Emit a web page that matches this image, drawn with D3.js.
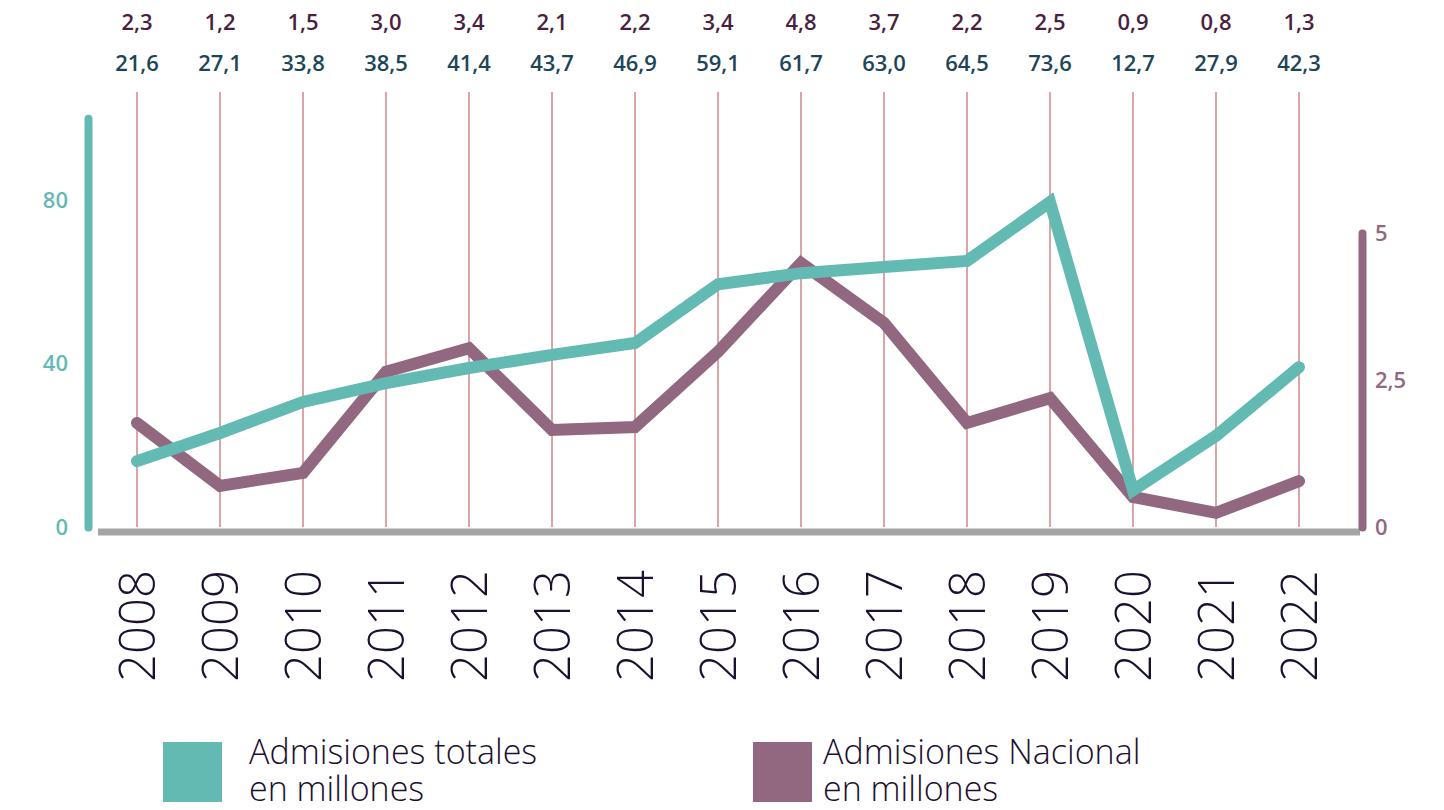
<!DOCTYPE html>
<html>
<head>
<meta charset="utf-8">
<script src="https://cdn.jsdelivr.net/npm/d3@7"></script>
<style>
  html, body { margin: 0; padding: 0; background: #ffffff; }
  svg { display: block; }
  text { font-family: "Open Sans", "Noto Sans", sans-serif; }
</style>
</head>
<body>
<svg id="chart" width="1444" height="810"></svg>
<script>
// ---- data ----
const years = ["2008","2009","2010","2011","2012","2013","2014","2015","2016","2017","2018","2019","2020","2021","2022"];
// plotted positions
const totalValues    = [16.1, 23.0, 30.6, 35.2, 38.9, 42.1, 45.0, 59.4, 62.1, 63.6, 65.1, 79.5, 9.0, 22.3, 39.1];
const nacionalValues = [1.77, 0.70, 0.92, 2.64, 3.04, 1.65, 1.70, 2.98, 4.49, 3.47, 1.77, 2.19, 0.51, 0.24, 0.78];
// printed labels at the top
const totalLabels    = ["21,6","27,1","33,8","38,5","41,4","43,7","46,9","59,1","61,7","63,0","64,5","73,6","12,7","27,9","42,3"];
const nacionalLabels = ["2,3","1,2","1,5","3,0","3,4","2,1","2,2","3,4","4,8","3,7","2,2","2,5","0,9","0,8","1,3"];
const leftTicks  = [0, 40, 80];
const rightTicks = [0, 2.5, 5];
const legendItems = [
  { lines: ["Admisiones totales", "en millones"], key: "total" },
  { lines: ["Admisiones Nacional", "en millones"], key: "nacional" }
];

// ---- styles ----
const TEAL = "#63bab3", PURPLE = "#926880", GRID = "#d48e8e", BASE = "#a5a5a5";
const TEAL_TXT = "#1c4658", PURPLE_TXT = "#4a1f40", DARK = "#1c1030";

const svg = d3.select("#chart");
const x = d3.scalePoint().domain(years).range([137, 1299]);
const yL = d3.scaleLinear().domain([0, 100]).range([527, 118.25]);
const yR = d3.scaleLinear().domain([0, 5]).range([527, 233]);
const locale = d3.formatLocale({ decimal: ",", thousands: ".", grouping: [3], currency: ["", ""] });
const fmtR = d => d === Math.round(d) ? String(d) : locale.format(".1f")(d);

// vertical grid lines
svg.append("g").selectAll("line").data(years).join("line")
  .attr("x1", d => x(d)).attr("x2", d => x(d))
  .attr("y1", 92).attr("y2", yL(0))
  .attr("stroke", GRID).attr("stroke-width", 1.6);

// baseline
svg.append("line")
  .attr("x1", 98).attr("x2", 1360)
  .attr("y1", yL(0) + 5).attr("y2", yL(0) + 5)
  .attr("stroke", BASE).attr("stroke-width", 7);

// left axis
const gL = svg.append("g").attr("transform", "translate(88,0)")
  .call(d3.axisLeft(yL).tickValues(leftTicks).tickSize(0).tickSizeOuter(0).tickPadding(20));
gL.select(".domain").attr("stroke", TEAL).attr("stroke-width", 8).attr("stroke-linecap", "round");
gL.selectAll("text").attr("fill", TEAL).attr("font-size", 22).attr("font-weight", 600)
  .style("font-family", '"Open Sans", sans-serif');

// right axis
const gR = svg.append("g").attr("transform", "translate(1362,0)")
  .call(d3.axisRight(yR).tickValues(rightTicks).tickFormat(fmtR).tickSize(0).tickSizeOuter(0).tickPadding(13));
gR.select(".domain").attr("stroke", PURPLE).attr("stroke-width", 8).attr("stroke-linecap", "round");
gR.selectAll("text").attr("fill", PURPLE).attr("font-size", 22).attr("font-weight", 600)
  .style("font-family", '"Open Sans", sans-serif');

// year labels
const gX = svg.append("g").attr("transform", `translate(0,${yL(0) + 5})`)
  .call(d3.axisBottom(x).tickSize(0).tickSizeOuter(0));
gX.select(".domain").remove();
gX.selectAll("text")
  .attr("x", 0).attr("y", 0).attr("dy", "0.36em")
  .attr("transform", "translate(0,38) rotate(-90)")
  .attr("text-anchor", "end")
  .attr("fill", DARK).attr("font-size", 49).attr("font-weight", 300)
  .style("font-family", '"Open Sans", sans-serif');

// lines
const lineL = d3.line().x((d, i) => x(years[i])).y(d => yL(d));
const lineR = d3.line().x((d, i) => x(years[i])).y(d => yR(d));
svg.append("path").datum(nacionalValues).attr("d", lineR)
  .attr("fill", "none").attr("stroke", PURPLE).attr("stroke-width", 12)
  .attr("stroke-linejoin", "miter").attr("stroke-linecap", "round");
svg.append("path").datum(totalValues).attr("d", lineL)
  .attr("fill", "none").attr("stroke", TEAL).attr("stroke-width", 12)
  .attr("stroke-linejoin", "miter").attr("stroke-linecap", "round");

// top labels
svg.append("g").selectAll("text").data(nacionalLabels).join("text")
  .attr("x", (d, i) => x(years[i])).attr("y", 30)
  .attr("text-anchor", "middle").attr("fill", PURPLE_TXT)
  .attr("font-size", 22).attr("font-weight", 600).text(d => d);
svg.append("g").selectAll("text").data(totalLabels).join("text")
  .attr("x", (d, i) => x(years[i])).attr("y", 71)
  .attr("text-anchor", "middle").attr("fill", TEAL_TXT)
  .attr("font-size", 22).attr("font-weight", 600).text(d => d);

// legend
const legendColor = { total: TEAL, nacional: PURPLE };
const legendX = [163, 753];
legendItems.forEach((it, i) => {
  const g = svg.append("g").attr("transform", `translate(${legendX[i]},742)`);
  g.append("rect").attr("width", 59).attr("height", 60).attr("fill", legendColor[it.key]);
  const t = g.append("text").attr("fill", DARK).attr("font-size", 34).attr("font-weight", 300);
  it.lines.forEach((ln, j) => {
    t.append("tspan").attr("x", i === 0 ? 86 : 70).attr("y", 22 + j * 37).text(ln);
  });
});
</script>
</body>
</html>
